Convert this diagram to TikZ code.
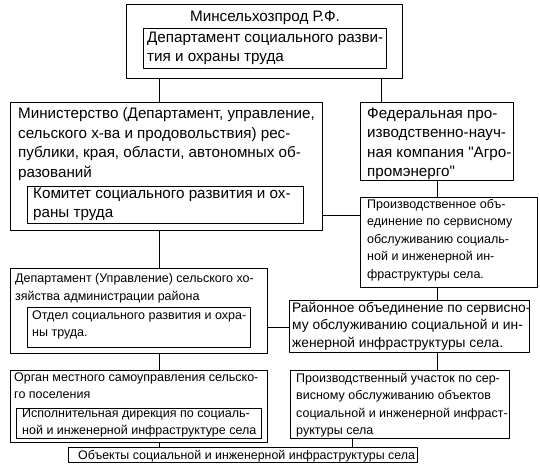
\documentclass[tikz,border=0pt]{standalone}
\usepackage{fontspec}
\setmainfont{Liberation Sans}

\tikzset{
  box/.style={draw, line width=0.8pt, anchor=north west, inner sep=0pt},
  bigtxt/.style={anchor=north west, inner sep=0pt, align=left,
    font=\fontsize{15.2}{19.5}\selectfont, execute at begin node={\rule{0pt}{13.65pt}}},
  smalltxt/.style={anchor=north west, inner sep=0pt, align=left,
    font=\fontsize{12.5}{17.5}\selectfont, execute at begin node={\rule{0pt}{12.25pt}}},
  link/.style={line width=0.8pt}
}

\begin{document}
\begin{tikzpicture}[x=1pt, y=-1pt, line join=round]

        \useasboundingbox (0,0) rectangle (540,466);

        % Оси соединительных линий
        \coordinate (xl) at (159,0);
        \coordinate (xr) at (437,0);
        \coordinate (xt) at (381,0);
        \coordinate (xo) at (352,0);
        \coordinate (ya) at (0,215);
        \coordinate (yb) at (0,327);

        % Рамки
        \node[box, minimum width=276, minimum height=74] (top) at (126,4) {};
        \node[box, minimum width=243, minimum height=40] (topIn) at (143,28) {};
        \node[box, minimum width=312, minimum height=128] (min) at (10,102) {};
        \node[box, minimum width=276, minimum height=37] (minIn) at (27,186) {};
        \node[box, minimum width=153, minimum height=78] (fed) at (360,102) {};
        \node[box, minimum width=177, minimum height=90] (prod) at (360,197) {};
        \node[box, minimum width=257, minimum height=85] (dep) at (10,268) {};
        \node[box, minimum width=223, minimum height=40] (depIn) at (27,307) {};
        \node[box, minimum width=240, minimum height=52] (ray) at (289,300) {};
        \node[box, minimum width=257, minimum height=72] (org) at (10,370) {};
        \node[box, minimum width=245, minimum height=30] (orgIn) at (16,408) {};
        \node[box, minimum width=219, minimum height=68] (uch) at (290,370) {};
        \node[box, minimum width=349, minimum height=15] (obj) at (68,447) {};

        % Тексты
        \node[font=\fontsize{15.2}{19.5}\selectfont, anchor=base, inner sep=0pt] (topT) at (265,21) {Минсельхозпрод Р.Ф.};
        \node[bigtxt] (topInT) at (147,31.35) {Департамент социального разви-\\тия и охраны труда};
        \node[bigtxt] (minT) at (18,107.35) {Министерство (Департамент, управление,\\сельского х-ва и продовольствия) рес-\\публики, края, области, автономных об-\\разований};
        \node[bigtxt] (minInT) at (33,187.35) {Комитет социального развития и ох-\\раны труда};
        \node[bigtxt] (fedT) at (367,107.35) {Федеральная про-\\изводственно-науч-\\ная компания \textquotedbl Агро-\\промэнерго\textquotedbl};
        \node[smalltxt] (prodT) at (367,198.75) {Производственное объ-\\единение по сервисному\\обслуживанию социаль-\\ной и инженерной ин-\\фраструктуры села.};
        \node[smalltxt] (depT) at (15,273.25) {Департамент (Управление) сельского хо-\\зяйства администрации района};
        \node[smalltxt] (depInT) at (32,310.25) {Отдел социального развития и охра-\\ны труда.};
        \node[smalltxt, font=\fontsize{13.8}{17.5}\selectfont] (rayT) at (292,301.75) {Районное объединение по сервисно-\\му обслуживанию социальной и ин-\\женерной инфраструктуры села.};
        \node[smalltxt] (orgT) at (14,372.25) {Орган местного самоуправления сельско-\\го поселения};
        \node[smalltxt, font=\fontsize{12.5}{16.5}\selectfont] (orgInT) at (22,408.75) {Исполнительная дирекция по социаль-\\ной и инженерной инфраструктуре села};
        \node[smalltxt] (uchT) at (296,372.75) {Производственный участок по сер-\\висному обслуживанию объектов\\социальной и инженерной инфраст-\\руктуры села};
        \node[smalltxt, font=\fontsize{12.4}{17.5}\selectfont] (objT) at (78,446.75) {Объекты социальной и инженерной инфраструктуры села};

        % Связи
        \draw[link] (top.south -| xl) -- (min.north -| xl);
        \draw[link] (top.south -| xt) -- (fed.north -| xt);
        \draw[link] (min.east |- ya) -- (prod.west |- ya);
        \draw[link] (fed.south -| xr) -- (prod.north -| xr);
        \draw[link] (min.south -| xl) -- (dep.north -| xl);
        \draw[link] (prod.south -| xr) -- (ray.north -| xr);
        \draw[link] (dep.east |- yb) -- (ray.west |- yb);
        \draw[link] (dep.south -| xl) -- (org.north -| xl);
        \draw[link] (ray.south -| xr) -- (uch.north -| xr);
        \draw[link] (org.south -| xl) -- (obj.north -| xl);
        \draw[link] (uch.south -| xo) -- (obj.north -| xo);

\end{tikzpicture}
\end{document}
